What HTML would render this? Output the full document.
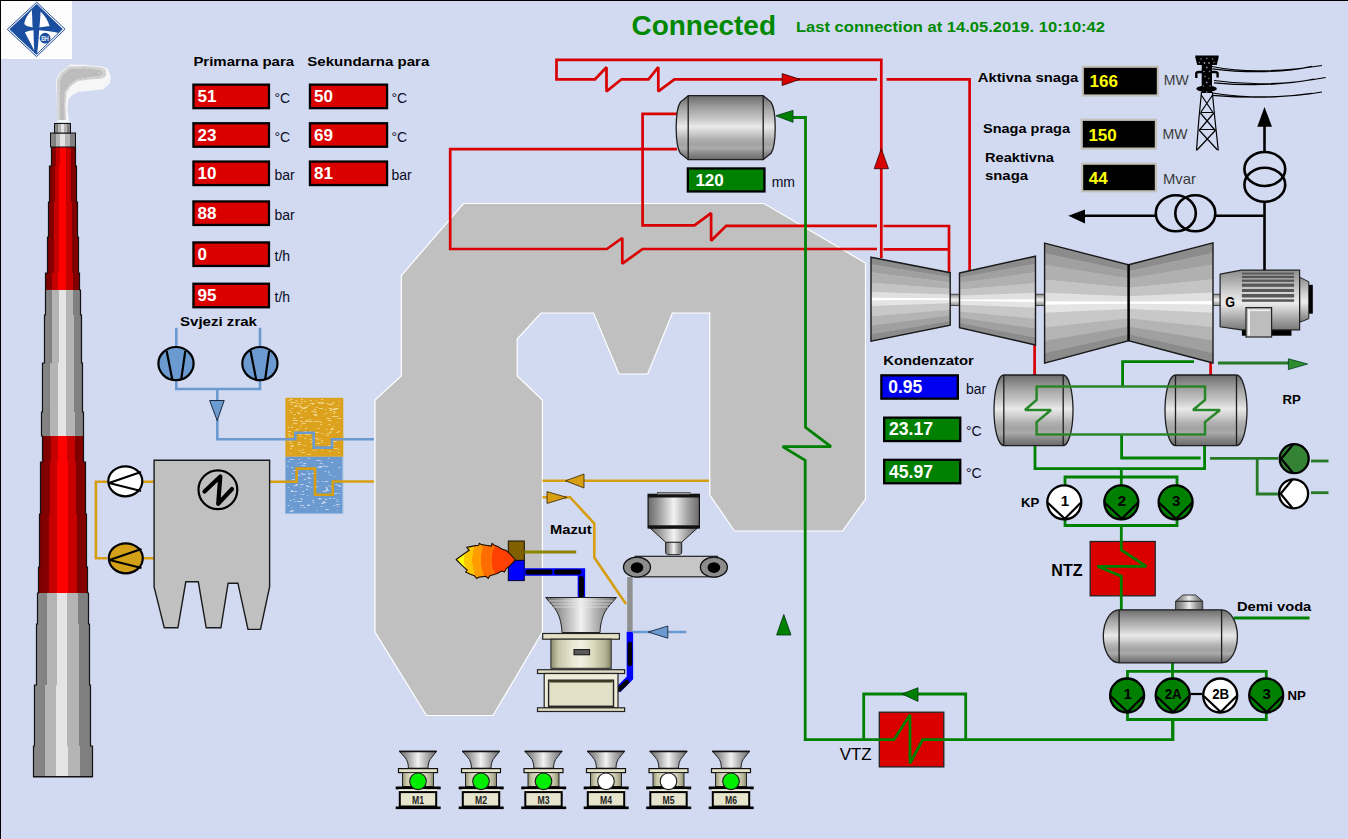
<!DOCTYPE html>
<html><head><meta charset="utf-8">
<style>
html,body{margin:0;padding:0;background:#D2DAF2;}
#wrap{position:relative;width:1348px;height:839px;overflow:hidden;background:#D2DAF2;}
svg{position:absolute;left:0;top:0;}
svg text{font-family:"Liberation Sans",sans-serif;}
</style></head><body><div id="wrap">
<svg width="1348" height="839" viewBox="0 0 1348 839">
<defs>
<linearGradient id="gRed" x1="0" x2="1" y1="0" y2="0">
<stop offset="0" stop-color="#7a0000"/><stop offset="0.21" stop-color="#880000"/><stop offset="0.21" stop-color="#c40000"/><stop offset="0.37" stop-color="#c80000"/><stop offset="0.37" stop-color="#ff0000"/><stop offset="0.6" stop-color="#ff0000"/><stop offset="0.6" stop-color="#c80000"/><stop offset="0.79" stop-color="#c40000"/><stop offset="0.79" stop-color="#7c0000"/><stop offset="1" stop-color="#880000"/>
</linearGradient>
<linearGradient id="gGray" x1="0" x2="1" y1="0" y2="0">
<stop offset="0" stop-color="#888888"/><stop offset="0.2" stop-color="#808080"/><stop offset="0.2" stop-color="#b4b4b4"/><stop offset="0.39" stop-color="#b4b4b4"/><stop offset="0.39" stop-color="#e4e4e4"/><stop offset="0.58" stop-color="#e4e4e4"/><stop offset="0.58" stop-color="#b4b4b4"/><stop offset="0.79" stop-color="#b4b4b4"/><stop offset="0.79" stop-color="#808080"/><stop offset="1" stop-color="#808080"/>
</linearGradient>
<linearGradient id="gCylV" x1="0" x2="0" y1="0" y2="1">
<stop offset="0" stop-color="#6c6c6c"/><stop offset="0.11" stop-color="#8a8a8a"/><stop offset="0.21" stop-color="#a6a6a6"/><stop offset="0.32" stop-color="#bdbdbd"/><stop offset="0.4" stop-color="#d2d2d2"/><stop offset="0.48" stop-color="#e9e9e9"/><stop offset="0.57" stop-color="#d2d2d2"/><stop offset="0.67" stop-color="#b2b2b2"/><stop offset="0.76" stop-color="#a2a2a2"/><stop offset="0.82" stop-color="#ababab"/><stop offset="0.9" stop-color="#8a8a8a"/><stop offset="1" stop-color="#6a6a6a"/>
</linearGradient>
<linearGradient id="gCylH" x1="0" x2="1" y1="0" y2="0">
<stop offset="0" stop-color="#707070"/><stop offset="0.25" stop-color="#a0a0a0"/><stop offset="0.5" stop-color="#eeeeee"/><stop offset="0.75" stop-color="#a0a0a0"/><stop offset="1" stop-color="#6a6a6a"/>
</linearGradient>
<linearGradient id="gTurb" x1="0" x2="0" y1="0" y2="1">
<stop offset="0" stop-color="#8a8a8a"/><stop offset="0.1" stop-color="#8a8a8a"/><stop offset="0.1" stop-color="#9c9c9c"/><stop offset="0.2" stop-color="#9c9c9c"/><stop offset="0.2" stop-color="#b0b0b0"/><stop offset="0.3" stop-color="#b0b0b0"/><stop offset="0.3" stop-color="#c4c4c4"/><stop offset="0.4" stop-color="#c4c4c4"/><stop offset="0.4" stop-color="#e0e0e0"/><stop offset="0.47" stop-color="#e8e8e8"/><stop offset="0.47" stop-color="#ffffff"/><stop offset="0.52" stop-color="#ffffff"/><stop offset="0.52" stop-color="#e0e0e0"/><stop offset="0.6" stop-color="#d4d4d4"/><stop offset="0.6" stop-color="#c4c4c4"/><stop offset="0.7" stop-color="#c4c4c4"/><stop offset="0.7" stop-color="#b0b0b0"/><stop offset="0.8" stop-color="#b0b0b0"/><stop offset="0.8" stop-color="#9c9c9c"/><stop offset="0.9" stop-color="#9c9c9c"/><stop offset="0.9" stop-color="#8a8a8a"/><stop offset="1" stop-color="#8a8a8a"/>
</linearGradient>
<linearGradient id="gShaft" x1="0" x2="0" y1="0" y2="1">
<stop offset="0" stop-color="#888"/><stop offset="0.5" stop-color="#f4f4f4"/><stop offset="1" stop-color="#888"/>
</linearGradient>
<linearGradient id="gGen" x1="0" x2="0" y1="0" y2="1">
<stop offset="0" stop-color="#8e8e8e"/><stop offset="0.15" stop-color="#a8a8a8"/><stop offset="0.35" stop-color="#cfcfcf"/><stop offset="0.55" stop-color="#ececec"/><stop offset="0.7" stop-color="#c4c4c4"/><stop offset="0.85" stop-color="#9c9c9c"/><stop offset="1" stop-color="#7a7a7a"/>
</linearGradient>
<linearGradient id="gFun" x1="0" x2="1" y1="0" y2="0">
<stop offset="0" stop-color="#6a6a6a"/><stop offset="0.2" stop-color="#9a9a9a"/><stop offset="0.5" stop-color="#f2f2f2"/><stop offset="0.75" stop-color="#a8a8a8"/><stop offset="1" stop-color="#6a6a6a"/>
</linearGradient>
<linearGradient id="gKhaki" x1="0" x2="1" y1="0" y2="0">
<stop offset="0" stop-color="#8e8c6e"/><stop offset="0.12" stop-color="#c8c6a8"/><stop offset="0.35" stop-color="#e8e7d2"/><stop offset="0.5" stop-color="#f2f1e2"/><stop offset="0.7" stop-color="#dcdbc0"/><stop offset="0.9" stop-color="#b4b296"/><stop offset="1" stop-color="#858366"/>
</linearGradient>
<linearGradient id="gFlame" x1="0" x2="1" y1="0" y2="0">
<stop offset="0" stop-color="#ffff00"/><stop offset="0.15" stop-color="#ffe000"/><stop offset="0.16" stop-color="#ffc400"/><stop offset="0.3" stop-color="#ffb000"/><stop offset="0.31" stop-color="#ff9a00"/><stop offset="0.45" stop-color="#ff8800"/><stop offset="0.46" stop-color="#ff6a00"/><stop offset="0.62" stop-color="#ff5a00"/><stop offset="0.63" stop-color="#ff4400"/><stop offset="1" stop-color="#ff3a00"/>
</linearGradient>
<symbol id="mini" overflow="visible">
<path d="M-18.8 0 H18.7 L14 6 C11 9 10 13 10 17.2 H-9.6 C-9.6 13 -10.5 9 -13.5 6 Z" fill="url(#gFun)" stroke="#222" stroke-width="1"/>
<path d="M-18.8 0.6 H18.7" stroke="#111" stroke-width="1.4"/>
<rect x="-19.5" y="17.6" width="39" height="4" fill="#e4e2c6" stroke="#111" stroke-width="1.2"/>
<rect x="-15.5" y="21.6" width="31" height="13.9" fill="url(#gKhaki)" stroke="#222" stroke-width="1"/>
<rect x="-22.3" y="35.5" width="45" height="2.8" fill="#000"/>
<rect x="-19" y="38.3" width="38" height="2.8" fill="#f4f2dc"/>
<rect x="-18.2" y="41.1" width="36.4" height="14.4" fill="#e6e4cc" stroke="#000" stroke-width="2"/>
<rect x="-22.3" y="55.5" width="45" height="2.6" fill="#000"/>
</symbol>
</defs>

<!-- frame lines -->
<rect x="0" y="0" width="1348" height="1" fill="#000"/>
<rect x="0" y="0" width="1" height="839" fill="#000"/>

<!-- logo -->
<rect x="1" y="1" width="71" height="58" fill="#fff"/>
<g id="logo">
<path d="M36.5 2.5 L65 29.5 L36.5 57 L8 29.5 Z" fill="none" stroke="#1a4fa0" stroke-width="1"/>
<path d="M36.5 5 L62 29.5 L36.5 54.5 L11 29.5 Z" fill="#1a4fa0"/>
</g>


<!-- logo -->
<rect x="1" y="1" width="71" height="58" fill="#fdfdfd"/>
<path d="M36.7 2.2 L65 29.2 L36.5 56.6 L7.3 29.3 Z" fill="none" stroke="#1f4e9a" stroke-width="1"/>
<path d="M36.7 4.3 L62.3 29.2 L36.5 54.4 L9.8 29.3 Z" fill="#1a4f9f"/>
<path d="M31.8 10 C28 14 25 19 24.3 23.2 C24.6 25.5 27 26.2 32.6 27.4 C32.3 21 32.2 15 31.8 10 Z" fill="#fdfdfd"/>
<path d="M40.6 11.5 C40.3 17 40 22 39.4 27.5 C43 26.8 46.5 26.2 49.6 26.2 C48 20.5 45 15.5 40.6 11.5 Z" fill="#fdfdfd"/>
<path d="M24.9 32.2 C28 31 31 30.5 33.5 30.3 C33.7 37 33.8 44 34.2 50.5 C31 43 27 37 24.9 32.2 Z" fill="#fdfdfd"/>
<path d="M39.1 30.3 C46 30.8 53 31.8 58.6 32.9 L37.1 53.8 C38.2 46 38.8 37 39.1 30.3 Z" fill="#fdfdfd"/>
<path d="M36.7 4.3 L62.3 29.2 L36.5 54.4 L9.8 29.3 Z" fill="none" stroke="#1a4f9f" stroke-width="0.9"/>
<circle cx="45.1" cy="38.2" r="5.4" fill="#1a4f9f"/>
<text x="41.2" y="41.2" font-size="7.6" fill="#fff" stroke="#fff" stroke-width="0.2" textLength="7.6" lengthAdjust="spacingAndGlyphs">BH</text>

<!-- chimney -->
<rect x="51" y="147" width="25" height="19" fill="url(#gRed)"/>
<rect x="49" y="166" width="28" height="36" fill="url(#gRed)"/>
<rect x="48" y="202" width="30" height="35" fill="url(#gRed)"/>
<rect x="47" y="237" width="32" height="36" fill="url(#gRed)"/>
<rect x="45" y="273" width="35" height="17" fill="url(#gRed)"/>
<rect x="45" y="290" width="36" height="25" fill="url(#gGray)"/>
<rect x="44" y="315" width="38" height="48" fill="url(#gGray)"/>
<rect x="42" y="363" width="41" height="49" fill="url(#gGray)"/>
<rect x="41" y="412" width="43" height="24" fill="url(#gGray)"/>
<rect x="42" y="436" width="42" height="26" fill="url(#gRed)"/>
<rect x="40" y="462" width="46" height="52" fill="url(#gRed)"/>
<rect x="39" y="514" width="48" height="53" fill="url(#gRed)"/>
<rect x="38" y="567" width="50" height="26" fill="url(#gRed)"/>
<rect x="37" y="593" width="52" height="31" fill="url(#gGray)"/>
<rect x="36" y="624" width="54" height="61" fill="url(#gGray)"/>
<rect x="34" y="685" width="57" height="61" fill="url(#gGray)"/>
<rect x="33" y="746" width="60" height="31" fill="url(#gGray)"/>
<path d="M51.5,147 51.5,166 L49.5,166 49.5,202 L48.5,202 48.5,237 L47.5,237 47.5,273 L45.5,273 45.5,290 L45.5,290 45.5,315 L44.5,315 44.5,363 L42.5,363 42.5,412 L41.5,412 41.5,436 L42.5,436 42.5,462 L40.5,462 40.5,514 L39.5,514 39.5,567 L38.5,567 38.5,593 L37.5,593 37.5,624 L36.5,624 36.5,685 L34.5,685 34.5,746 L33.5,746 33.5,777" fill="none" stroke="#111" stroke-width="1.2"/>
<path d="M75.5,147 75.5,166 L76.5,166 76.5,202 L77.5,202 77.5,237 L78.5,237 78.5,273 L79.5,273 79.5,290 L80.5,290 80.5,315 L81.5,315 81.5,363 L82.5,363 82.5,412 L83.5,412 83.5,436 L83.5,436 83.5,462 L85.5,462 85.5,514 L86.5,514 86.5,567 L87.5,567 87.5,593 L88.5,593 88.5,624 L89.5,624 89.5,685 L90.5,685 90.5,746 L92.5,746 92.5,777" fill="none" stroke="#111" stroke-width="1.2"/>
<rect x="33" y="776" width="60" height="1.5" fill="#111"/>
<rect x="50.5" y="133" width="25" height="14" fill="url(#gGray)" stroke="#111" stroke-width="1"/>
<rect x="54.5" y="123.5" width="16" height="9.5" fill="url(#gGray)" stroke="#111" stroke-width="1"/>
<path d="M57.5 122 L56.7 93 L55.8 81 L59.2 73.3 L68.3 65.8 L70 64.6 L88.3 65 L103.3 66.7 L108.3 69.2 L110.8 76.7 L110 83.3 L103.3 89.2 L90 90.8 L78.3 91.7 L72.5 95 L68.3 99.2 L67.5 110 L69.2 122 Z" fill="#f6f6f6"/>
<path d="M57.5 120 L57.2 93 L56.8 81 L60 74 L68.5 66.5 L88 66 L102 67.5 L106 70 L106 76 L102 78.5 L90 79.5 L78 81 L71 86 L66.5 92 L65.5 105 L66 120 Z" fill="#d2d2d2"/>
<path d="M60 120 L60 93 L60 82 L63 75 L70 69 L88 68.5 L100 70 L103 73 L100 76 L89 77 L77 79 L70 84 L64.5 92 L64 105 L64.5 120 Z" fill="#bdbdbd"/>
<clipPath id="smokeClip"><path d="M57.5 120 L57.2 93 L56.8 81 L60 74 L68.5 66.5 L88 66 L102 67.5 L106 70 L106 76 L102 78.5 L90 79.5 L78 81 L71 86 L66.5 92 L65.5 105 L66 120 Z"/></clipPath>
<g clip-path="url(#smokeClip)" opacity="0.6"><rect x="68.3" y="95.6" width="2" height="1" fill="#a9a9a9"/><rect x="81.5" y="97.7" width="1" height="1" fill="#b0b0b0"/><rect x="105.9" y="91.2" width="1" height="1" fill="#b0b0b0"/><rect x="65.7" y="105.6" width="2" height="1" fill="#b0b0b0"/><rect x="81.7" y="101.1" width="1" height="1" fill="#d8d8d8"/><rect x="90.6" y="114.3" width="1.5" height="1" fill="#b0b0b0"/><rect x="96.5" y="102.9" width="1" height="1" fill="#cfcfcf"/><rect x="97.5" y="98.3" width="1" height="1" fill="#a9a9a9"/><rect x="101.1" y="79.6" width="2" height="1" fill="#b0b0b0"/><rect x="106.5" y="86.5" width="1.5" height="1" fill="#e6e6e6"/><rect x="95.8" y="97.5" width="1.5" height="1" fill="#d8d8d8"/><rect x="60.5" y="71.9" width="1.5" height="1" fill="#d8d8d8"/><rect x="109.1" y="89.3" width="1.5" height="1" fill="#a9a9a9"/><rect x="83.4" y="86.4" width="2" height="1" fill="#a9a9a9"/><rect x="87.8" y="97.9" width="2" height="1" fill="#a9a9a9"/><rect x="106.3" y="65.7" width="2" height="1" fill="#a9a9a9"/><rect x="92.6" y="73.5" width="2" height="1" fill="#a9a9a9"/><rect x="105.7" y="97.0" width="2" height="1" fill="#d8d8d8"/><rect x="101.6" y="97.3" width="1" height="1" fill="#a9a9a9"/><rect x="58.6" y="113.5" width="1" height="1" fill="#e6e6e6"/><rect x="74.3" y="67.9" width="1" height="1" fill="#d8d8d8"/><rect x="71.5" y="108.6" width="1" height="1" fill="#cfcfcf"/><rect x="88.9" y="108.2" width="2" height="1" fill="#e6e6e6"/><rect x="87.8" y="95.9" width="2" height="1" fill="#a9a9a9"/><rect x="68.2" y="66.1" width="1" height="1" fill="#cfcfcf"/><rect x="61.1" y="95.1" width="1.5" height="1" fill="#d8d8d8"/><rect x="71.3" y="79.3" width="1.5" height="1" fill="#cfcfcf"/><rect x="72.6" y="119.6" width="1.5" height="1" fill="#e6e6e6"/><rect x="80.8" y="94.2" width="2" height="1" fill="#b0b0b0"/><rect x="86.3" y="100.0" width="1.5" height="1" fill="#b0b0b0"/><rect x="79.1" y="105.8" width="1.5" height="1" fill="#d8d8d8"/><rect x="79.5" y="79.0" width="2" height="1" fill="#a9a9a9"/><rect x="74.0" y="109.7" width="1.5" height="1" fill="#b0b0b0"/><rect x="56.1" y="99.7" width="1" height="1" fill="#d8d8d8"/><rect x="90.5" y="83.3" width="2" height="1" fill="#a9a9a9"/><rect x="106.4" y="99.3" width="2" height="1" fill="#a9a9a9"/><rect x="82.4" y="98.2" width="1.5" height="1" fill="#cfcfcf"/><rect x="69.1" y="90.5" width="2" height="1" fill="#b0b0b0"/><rect x="72.9" y="85.1" width="1.5" height="1" fill="#a9a9a9"/><rect x="102.3" y="79.3" width="1" height="1" fill="#e6e6e6"/><rect x="98.2" y="65.6" width="2" height="1" fill="#b0b0b0"/><rect x="96.2" y="82.0" width="2" height="1" fill="#d8d8d8"/><rect x="100.0" y="77.8" width="2" height="1" fill="#d8d8d8"/><rect x="79.4" y="104.5" width="2" height="1" fill="#cfcfcf"/><rect x="73.0" y="83.4" width="1.5" height="1" fill="#d8d8d8"/><rect x="100.3" y="119.7" width="1.5" height="1" fill="#cfcfcf"/><rect x="96.6" y="76.6" width="1.5" height="1" fill="#b0b0b0"/><rect x="70.2" y="109.6" width="2" height="1" fill="#cfcfcf"/><rect x="108.6" y="82.3" width="1" height="1" fill="#b0b0b0"/><rect x="103.4" y="83.7" width="2" height="1" fill="#cfcfcf"/><rect x="74.3" y="71.5" width="2" height="1" fill="#a9a9a9"/><rect x="99.5" y="79.7" width="2" height="1" fill="#a9a9a9"/><rect x="78.3" y="88.3" width="1" height="1" fill="#e6e6e6"/><rect x="106.6" y="73.0" width="1.5" height="1" fill="#cfcfcf"/><rect x="107.8" y="115.0" width="1.5" height="1" fill="#b0b0b0"/><rect x="86.3" y="121.2" width="1" height="1" fill="#d8d8d8"/><rect x="96.7" y="112.5" width="1.5" height="1" fill="#b0b0b0"/><rect x="85.5" y="115.6" width="2" height="1" fill="#cfcfcf"/><rect x="109.4" y="71.0" width="1" height="1" fill="#d8d8d8"/><rect x="57.0" y="110.6" width="1" height="1" fill="#b0b0b0"/><rect x="105.2" y="116.2" width="1" height="1" fill="#b0b0b0"/><rect x="55.7" y="107.2" width="2" height="1" fill="#d8d8d8"/><rect x="71.8" y="102.4" width="2" height="1" fill="#b0b0b0"/><rect x="78.2" y="118.5" width="1" height="1" fill="#b0b0b0"/><rect x="74.1" y="78.6" width="1.5" height="1" fill="#b0b0b0"/><rect x="100.4" y="67.6" width="1" height="1" fill="#d8d8d8"/><rect x="61.8" y="115.5" width="1" height="1" fill="#cfcfcf"/><rect x="68.4" y="79.9" width="1" height="1" fill="#d8d8d8"/><rect x="82.3" y="97.1" width="1" height="1" fill="#e6e6e6"/><rect x="97.4" y="78.4" width="2" height="1" fill="#b0b0b0"/><rect x="84.1" y="67.0" width="1" height="1" fill="#a9a9a9"/><rect x="103.0" y="109.0" width="1" height="1" fill="#cfcfcf"/><rect x="57.8" y="92.0" width="2" height="1" fill="#cfcfcf"/><rect x="59.8" y="93.1" width="1" height="1" fill="#a9a9a9"/><rect x="72.6" y="84.4" width="2" height="1" fill="#e6e6e6"/><rect x="72.0" y="79.4" width="1.5" height="1" fill="#a9a9a9"/><rect x="61.9" y="96.2" width="1" height="1" fill="#e6e6e6"/><rect x="86.7" y="66.5" width="2" height="1" fill="#e6e6e6"/><rect x="91.4" y="95.4" width="2" height="1" fill="#cfcfcf"/><rect x="104.6" y="67.1" width="2" height="1" fill="#e6e6e6"/><rect x="72.6" y="119.1" width="1.5" height="1" fill="#e6e6e6"/><rect x="56.0" y="76.7" width="2" height="1" fill="#a9a9a9"/><rect x="88.0" y="110.6" width="1.5" height="1" fill="#d8d8d8"/><rect x="62.3" y="65.6" width="1.5" height="1" fill="#a9a9a9"/><rect x="109.3" y="96.4" width="1" height="1" fill="#a9a9a9"/><rect x="81.0" y="71.1" width="1.5" height="1" fill="#b0b0b0"/><rect x="92.4" y="106.6" width="2" height="1" fill="#b0b0b0"/><rect x="60.8" y="98.1" width="1.5" height="1" fill="#cfcfcf"/><rect x="63.0" y="108.9" width="2" height="1" fill="#cfcfcf"/><rect x="60.1" y="69.8" width="1" height="1" fill="#e6e6e6"/><rect x="100.9" y="83.8" width="1" height="1" fill="#cfcfcf"/><rect x="102.3" y="103.1" width="2" height="1" fill="#a9a9a9"/><rect x="71.8" y="69.1" width="2" height="1" fill="#b0b0b0"/><rect x="84.6" y="77.8" width="2" height="1" fill="#b0b0b0"/><rect x="60.6" y="96.1" width="1.5" height="1" fill="#b0b0b0"/><rect x="103.7" y="74.5" width="1" height="1" fill="#cfcfcf"/><rect x="110.9" y="101.5" width="2" height="1" fill="#e6e6e6"/><rect x="94.2" y="118.7" width="1.5" height="1" fill="#a9a9a9"/><rect x="88.6" y="118.4" width="1.5" height="1" fill="#b0b0b0"/><rect x="109.1" y="85.8" width="1.5" height="1" fill="#d8d8d8"/><rect x="102.2" y="120.1" width="2" height="1" fill="#e6e6e6"/><rect x="86.8" y="97.6" width="2" height="1" fill="#b0b0b0"/><rect x="82.1" y="101.3" width="1" height="1" fill="#d8d8d8"/><rect x="60.4" y="107.4" width="1.5" height="1" fill="#b0b0b0"/><rect x="87.8" y="113.8" width="1.5" height="1" fill="#d8d8d8"/><rect x="97.1" y="72.5" width="1.5" height="1" fill="#b0b0b0"/><rect x="107.3" y="113.4" width="1.5" height="1" fill="#b0b0b0"/><rect x="92.6" y="113.6" width="2" height="1" fill="#b0b0b0"/><rect x="87.7" y="79.5" width="1.5" height="1" fill="#d8d8d8"/><rect x="56.3" y="91.8" width="1" height="1" fill="#e6e6e6"/><rect x="64.6" y="84.9" width="1.5" height="1" fill="#a9a9a9"/><rect x="98.4" y="72.3" width="2" height="1" fill="#e6e6e6"/><rect x="88.5" y="91.1" width="1" height="1" fill="#b0b0b0"/><rect x="82.0" y="105.8" width="2" height="1" fill="#e6e6e6"/><rect x="104.4" y="66.7" width="1" height="1" fill="#d8d8d8"/><rect x="91.3" y="109.1" width="1" height="1" fill="#cfcfcf"/><rect x="102.8" y="78.0" width="1.5" height="1" fill="#d8d8d8"/><rect x="62.7" y="100.1" width="1.5" height="1" fill="#cfcfcf"/><rect x="64.5" y="66.6" width="1.5" height="1" fill="#d8d8d8"/><rect x="60.1" y="110.3" width="1" height="1" fill="#cfcfcf"/></g>
<!-- smoke end -->
<!-- data panels -->
<text x="193.4" y="65.8" font-size="13.2" font-weight="bold" fill="#000" textLength="100.7" lengthAdjust="spacingAndGlyphs">Primarna para</text>
<text x="307.3" y="65.8" font-size="13.2" font-weight="bold" fill="#000" textLength="122" lengthAdjust="spacingAndGlyphs">Sekundarna para</text>
<rect x="193.45" y="84.65" width="75.50" height="23.50" fill="#DA0000" stroke="#000" stroke-width="2.3"/>
<text x="197.5" y="102.0" font-size="17" font-weight="bold" fill="#fff">51</text>
<text x="274.5" y="103.3" font-size="14" fill="#0a0a1e">°C</text>
<rect x="193.45" y="123.25" width="75.50" height="23.50" fill="#DA0000" stroke="#000" stroke-width="2.3"/>
<text x="197.5" y="140.6" font-size="17" font-weight="bold" fill="#fff">23</text>
<text x="274.5" y="141.9" font-size="14" fill="#0a0a1e">°C</text>
<rect x="193.45" y="161.55" width="75.50" height="23.50" fill="#DA0000" stroke="#000" stroke-width="2.3"/>
<text x="197.5" y="178.9" font-size="17" font-weight="bold" fill="#fff">10</text>
<text x="274.5" y="180.20000000000002" font-size="14" fill="#0a0a1e">bar</text>
<rect x="193.45" y="201.45" width="75.50" height="23.50" fill="#DA0000" stroke="#000" stroke-width="2.3"/>
<text x="197.5" y="218.8" font-size="17" font-weight="bold" fill="#fff">88</text>
<text x="274.5" y="220.10000000000002" font-size="14" fill="#0a0a1e">bar</text>
<rect x="193.45" y="242.45" width="75.50" height="23.50" fill="#DA0000" stroke="#000" stroke-width="2.3"/>
<text x="197.5" y="259.8" font-size="17" font-weight="bold" fill="#fff">0</text>
<text x="274.5" y="261.1" font-size="14" fill="#0a0a1e">t/h</text>
<rect x="193.45" y="283.75" width="75.50" height="23.50" fill="#DA0000" stroke="#000" stroke-width="2.3"/>
<text x="197.5" y="301.1" font-size="17" font-weight="bold" fill="#fff">95</text>
<text x="274.5" y="302.40000000000003" font-size="14" fill="#0a0a1e">t/h</text>
<rect x="309.95" y="84.65" width="77.10" height="23.50" fill="#DA0000" stroke="#000" stroke-width="2.3"/>
<text x="314" y="102.0" font-size="17" font-weight="bold" fill="#fff">50</text>
<text x="391.5" y="103.3" font-size="14" fill="#0a0a1e">°C</text>
<rect x="309.95" y="123.25" width="77.10" height="23.50" fill="#DA0000" stroke="#000" stroke-width="2.3"/>
<text x="314" y="140.6" font-size="17" font-weight="bold" fill="#fff">69</text>
<text x="391.5" y="141.9" font-size="14" fill="#0a0a1e">°C</text>
<rect x="309.95" y="161.55" width="77.10" height="23.50" fill="#DA0000" stroke="#000" stroke-width="2.3"/>
<text x="314" y="178.9" font-size="17" font-weight="bold" fill="#fff">81</text>
<text x="391.5" y="180.20000000000002" font-size="14" fill="#0a0a1e">bar</text>
<text x="180" y="325.7" font-size="13.2" font-weight="bold" fill="#000" textLength="77" lengthAdjust="spacingAndGlyphs">Svjezi zrak</text>
<!-- boiler -->
<path d="M463.5 203.5 L764 203.5 L865.5 263 L865.5 499 L842.5 531 L734.5 531 L709.8 495 L709.8 313 L672.4 313 L647.7 374 L619 374 L593.5 313 L541 313 L517.2 339 L517.2 376 L542.4 400 L542.4 632 L493 715.5 L426.5 715.5 L375 632 L375 400 L401.3 376 L401.3 275.6 Z" fill="#C0C0C0" stroke="#FFFFFF" stroke-width="1.2"/>
<rect x="1090.2" y="541.5" width="65" height="54.3" fill="#DA0000" stroke="#222" stroke-width="1.3"/>
<rect x="879.3" y="712.2" width="64.5" height="54.7" fill="#DA0000" stroke="#222" stroke-width="1.3"/>

<!-- red steam pipes -->
<g fill="none" stroke="#D80000" stroke-width="2.7" stroke-miterlimit="2">
<path d="M881.3 258 V59.8 H556.5 V79.3 H595 L606.5 67.2 V91.4 L621.5 79.3 H648.5 L658.3 67.2 V91.4 L674.4 79.3 H877"/>
<path d="M886.6 79.3 H969.6 V271"/>
<path d="M677 113.8 H642.6 V225.3 H694.5 L711.1 213.1 V240.8 L726.2 225.8 H877"/>
<path d="M883.5 226 H949 V273"/>
<path d="M677 149.2 H450.2 V249 H606.8 L622.3 238 V263.7 L642.6 249 H877"/>
<path d="M883.5 249.3 H949"/>
<path d="M1034.6 344 V375"/>
<path d="M1210.6 360 V375"/>
</g>
<path d="M782.2 73.6 L800 79.3 L782.2 85.5 Z" fill="#D80000" stroke="#300" stroke-width="0.8"/>
<path d="M881.3 148.7 L888.5 168.7 L874.2 168.7 Z" fill="#D80000" stroke="#300" stroke-width="0.8"/>
<!-- green water pipes -->
<g fill="none" stroke="#008000" stroke-width="2.8" stroke-miterlimit="2">
<path d="M793 117.5 H805.5 V427.3 L831 446.6 H782.6 L805.2 460.2 V739.7 H894 L910 714.8 V763.3 L922.7 739.7 H1173 V719.5"/>
<path d="M863.7 739.7 V694 H965.7 V739.7"/>
<path d="M1122.6 386.4 V361.6 H1194"/>
<path d="M1035 445.6 V468.6 H1204.6 V445.6"/>
<path d="M1121.6 434.4 V458 H1200.6"/>
<path d="M1121.3 468.6 V477"/>
<path d="M1065 502 V477 H1177 V502"/>
<path d="M1121.3 477 V502"/>
<path d="M1065 502 V525.5 H1177 V502"/>
<path d="M1121.3 525.5 V550 L1146.3 566.3 H1097.5 L1121.3 576.3 V610"/>
<path d="M1233.8 618 H1309.5"/>
<path d="M1172.5 662 V671.3"/>
<path d="M1127.5 695 V671.3 H1266.3 V695"/>
<path d="M1172.5 671.3 V695"/>
<path d="M1127.5 695 V719.5 H1266.3 V695"/>
<path d="M1172.5 719.5 V740"/>
</g>
<g fill="none" stroke="#267A26" stroke-width="2.8" stroke-miterlimit="2">
<path d="M1218 363 H1290"/>
<path d="M1210 458.4 H1278"/>
<path d="M1257.2 458.4 V494 H1278"/>
<path d="M1311 461 H1328.5"/>
<path d="M1311 492.7 H1328.5"/>
</g>
<path d="M775.8 115.8 L793 110.4 L793 122.3 Z" fill="#008000" stroke="#031" stroke-width="0.8"/>
<path d="M1288.4 358.8 L1307.6 364 L1288.4 369.6 Z" fill="#2E8B2E" stroke="#042" stroke-width="0.8"/>
<path d="M902 694 L918 687.7 L918 701.4 Z" fill="#008000" stroke="#031" stroke-width="0.8"/>
<path d="M783.8 614.4 L791 635 L776.6 635 Z" fill="#008000" stroke="#031" stroke-width="0.8"/>

<!-- turbines and generator -->
<rect x="949" y="294.2" width="11" height="11.4" fill="url(#gShaft)" stroke="#333" stroke-width="0.8"/>
<rect x="1034" y="294.2" width="11" height="11.4" fill="url(#gShaft)" stroke="#333" stroke-width="0.8"/>
<rect x="1212" y="294.2" width="9" height="11.4" fill="url(#gShaft)" stroke="#333" stroke-width="0.8"/>
<path d="M871 257.20 L950.2 272.70 L950.2 277.42 L871 264.56 Z" fill="#8c8c8c"/>
<path d="M871 264.26 L950.2 277.12 L950.2 282.47 L871 272.62 Z" fill="#a0a0a0"/>
<path d="M871 272.32 L950.2 282.17 L950.2 288.94 L871 282.95 Z" fill="#b0b0b0"/>
<path d="M871 282.65 L950.2 288.64 L950.2 294.72 L871 292.19 Z" fill="#c4c4c4"/>
<path d="M871 291.89 L950.2 294.42 L950.2 298.46 L871 298.16 Z" fill="#e0e0e0"/>
<path d="M871 297.86 L950.2 298.16 L950.2 300.04 L871 300.68 Z" fill="#ffffff"/>
<path d="M871 300.38 L950.2 299.74 L950.2 303.56 L871 306.30 Z" fill="#e4e4e4"/>
<path d="M871 306.00 L950.2 303.26 L950.2 309.98 L871 316.55 Z" fill="#c8c8c8"/>
<path d="M871 316.25 L950.2 309.68 L950.2 315.76 L871 325.79 Z" fill="#b4b4b4"/>
<path d="M871 325.49 L950.2 315.46 L950.2 321.18 L871 334.44 Z" fill="#a0a0a0"/>
<path d="M871 334.14 L950.2 320.88 L950.2 325.60 L871 341.50 Z" fill="#8c8c8c"/>
<path d="M871 257.2 L950.2 272.7 L950.2 325.3 L871 341.2 Z" fill="none" stroke="#1a1a1a" stroke-width="1.4"/>
<path d="M959.5 273.00 L1035.5 256.20 L1035.5 263.96 L959.5 277.89 Z" fill="#8c8c8c"/>
<path d="M959.5 277.59 L1035.5 263.66 L1035.5 272.48 L959.5 283.15 Z" fill="#a0a0a0"/>
<path d="M959.5 282.85 L1035.5 272.18 L1035.5 283.41 L959.5 289.87 Z" fill="#b0b0b0"/>
<path d="M959.5 289.57 L1035.5 283.11 L1035.5 293.17 L959.5 295.89 Z" fill="#c4c4c4"/>
<path d="M959.5 295.59 L1035.5 292.87 L1035.5 299.48 L959.5 299.77 Z" fill="#e0e0e0"/>
<path d="M959.5 299.47 L1035.5 299.18 L1035.5 302.14 L959.5 301.42 Z" fill="#ffffff"/>
<path d="M959.5 301.12 L1035.5 301.84 L1035.5 308.09 L959.5 305.08 Z" fill="#e4e4e4"/>
<path d="M959.5 304.78 L1035.5 307.79 L1035.5 318.93 L959.5 311.75 Z" fill="#c8c8c8"/>
<path d="M959.5 311.45 L1035.5 318.63 L1035.5 328.69 L959.5 317.77 Z" fill="#b4b4b4"/>
<path d="M959.5 317.47 L1035.5 328.39 L1035.5 337.84 L959.5 323.41 Z" fill="#a0a0a0"/>
<path d="M959.5 323.11 L1035.5 337.54 L1035.5 345.30 L959.5 328.00 Z" fill="#8c8c8c"/>
<path d="M959.5 273 L1035.5 256.2 L1035.5 345 L959.5 327.7 Z" fill="none" stroke="#1a1a1a" stroke-width="1.4"/>
<path d="M1044.6 243.10 L1128.6 264.80 L1128.6 271.48 L1044.6 253.48 Z" fill="#8c8c8c"/>
<path d="M1044.6 253.18 L1128.6 271.18 L1128.6 278.76 L1044.6 265.00 Z" fill="#a0a0a0"/>
<path d="M1044.6 264.70 L1128.6 278.46 L1128.6 288.10 L1044.6 279.76 Z" fill="#b0b0b0"/>
<path d="M1044.6 279.46 L1128.6 287.80 L1128.6 296.45 L1044.6 292.96 Z" fill="#c4c4c4"/>
<path d="M1044.6 292.66 L1128.6 296.15 L1128.6 301.84 L1044.6 301.48 Z" fill="#e0e0e0"/>
<path d="M1044.6 301.18 L1128.6 301.54 L1128.6 304.11 L1044.6 305.08 Z" fill="#ffffff"/>
<path d="M1044.6 304.78 L1128.6 303.81 L1128.6 309.20 L1044.6 313.12 Z" fill="#e4e4e4"/>
<path d="M1044.6 312.82 L1128.6 308.90 L1128.6 318.46 L1044.6 327.76 Z" fill="#c8c8c8"/>
<path d="M1044.6 327.46 L1128.6 318.16 L1128.6 326.81 L1044.6 340.96 Z" fill="#b4b4b4"/>
<path d="M1044.6 340.66 L1128.6 326.51 L1128.6 334.62 L1044.6 353.32 Z" fill="#a0a0a0"/>
<path d="M1044.6 353.02 L1128.6 334.32 L1128.6 341.00 L1044.6 363.40 Z" fill="#8c8c8c"/>
<path d="M1044.6 243.1 L1128.6 264.8 L1128.6 340.7 L1044.6 363.1 Z" fill="none" stroke="#1a1a1a" stroke-width="1.4"/>
<path d="M1128.6 264.80 L1213 242.80 L1213 253.20 L1128.6 271.48 Z" fill="#8c8c8c"/>
<path d="M1128.6 271.18 L1213 252.90 L1213 264.74 L1128.6 278.76 Z" fill="#a0a0a0"/>
<path d="M1128.6 278.46 L1213 264.44 L1213 279.52 L1128.6 288.10 Z" fill="#b0b0b0"/>
<path d="M1128.6 287.80 L1213 279.22 L1213 292.74 L1128.6 296.45 Z" fill="#c4c4c4"/>
<path d="M1128.6 296.15 L1213 292.44 L1213 301.28 L1128.6 301.84 Z" fill="#e0e0e0"/>
<path d="M1128.6 301.54 L1213 300.98 L1213 304.88 L1128.6 304.11 Z" fill="#ffffff"/>
<path d="M1128.6 303.81 L1213 304.58 L1213 312.94 L1128.6 309.20 Z" fill="#e4e4e4"/>
<path d="M1128.6 308.90 L1213 312.64 L1213 327.60 L1128.6 318.46 Z" fill="#c8c8c8"/>
<path d="M1128.6 318.16 L1213 327.30 L1213 340.82 L1128.6 326.81 Z" fill="#b4b4b4"/>
<path d="M1128.6 326.51 L1213 340.52 L1213 353.20 L1128.6 334.62 Z" fill="#a0a0a0"/>
<path d="M1128.6 334.32 L1213 352.90 L1213 363.30 L1128.6 341.00 Z" fill="#8c8c8c"/>
<path d="M1128.6 264.8 L1213 242.8 L1213 363 L1128.6 340.7 Z" fill="none" stroke="#1a1a1a" stroke-width="1.4"/>
<path d="M1128.6 264.8 V340.7" stroke="#000" stroke-width="2.4"/>
<rect x="1241.9" y="328.9" width="49.6" height="6.8" fill="#000"/>
<rect x="1308" y="284.8" width="4.8" height="28.9" fill="#000"/>
<path d="M1299.6 277.2 L1308.8 281.8 L1308.8 318.7 L1299.6 322.3 Z" fill="url(#gGen)" stroke="#222" stroke-width="1"/>
<path d="M1220.1 274.2 L1241.4 270.1 L1299.6 270.1 L1299.6 329.9 L1241.4 329.9 L1220.1 326.8 Z" fill="url(#gGen)" stroke="#222" stroke-width="1.2"/>
<rect x="1241.9" y="272.6" width="52.2" height="1.8" fill="#585858"/>
<rect x="1241.9" y="275.8" width="52.2" height="2.3" fill="#585858"/>
<rect x="1241.9" y="279.6" width="52.2" height="2.3" fill="#585858"/>
<rect x="1241.9" y="283.6" width="52.2" height="3.2" fill="#585858"/>
<rect x="1241.9" y="289" width="52.2" height="3.0" fill="#585858"/>
<rect x="1241.9" y="294" width="52.2" height="3.5" fill="#585858"/>
<rect x="1241.9" y="299.3" width="52.2" height="2.5" fill="#585858"/>
<rect x="1246" y="307.6" width="25.6" height="29.4" fill="#bdbdbd" stroke="#222" stroke-width="1.2"/>
<rect x="1248" y="309.5" width="2" height="26" fill="#f0f0f0"/>
<rect x="1248" y="309.5" width="22" height="1.6" fill="#f0f0f0"/>
<text x="1225.2" y="306.6" font-size="15.5" font-weight="bold" fill="#000" textLength="9.8" lengthAdjust="spacingAndGlyphs">G</text>
<!-- vessels -->
<path d="M688.2 95.7 L680.40 102.10 C677.40 106.58 676.2 114.90 676.2 127.70 C676.2 140.50 677.40 148.82 680.40 153.30 L688.2 159.7 H763.2 L771.00 153.30 C774.00 148.82 775.2 140.50 775.2 127.70 C775.2 114.90 774.00 106.58 771.00 102.10 L763.2 95.7 Z" fill="url(#gCylV)" stroke="#1e1e1e" stroke-width="1.3"/>
<path d="M688.2 95.7 V159.7 M763.2 95.7 V159.7" stroke="#1e1e1e" stroke-width="1.3"/>
<path d="M1003.8 375 H1063.2 A9.8 35.30000000000001 0 0 1 1063.2 445.6 H1003.8 A9.8 35.30000000000001 0 0 1 1003.8 375 Z" fill="url(#gCylV)" stroke="#1e1e1e" stroke-width="1.3"/>
<path d="M1003.8 375 V445.6 M1063.2 375 V445.6" stroke="#1e1e1e" stroke-width="1.3"/>
<path d="M1175.5 375 H1236.5 A10.5 35.30000000000001 0 0 1 1236.5 445.6 H1175.5 A10.5 35.30000000000001 0 0 1 1175.5 375 Z" fill="url(#gCylV)" stroke="#1e1e1e" stroke-width="1.3"/>
<path d="M1175.5 375 V445.6 M1236.5 375 V445.6" stroke="#1e1e1e" stroke-width="1.3"/>
<path d="M1175.6 610 V601.1 L1182.9 595 H1195.7 L1202.7 601.1 V610 Z" fill="url(#gCylH)" stroke="#333" stroke-width="1"/>
<path d="M1175.6 601.3 H1202.7" stroke="#333" stroke-width="1.2"/>
<path d="M1119.1 609.8 H1221.6000000000001 A15.8 26.55000000000001 0 0 1 1221.6000000000001 662.9 H1119.1 A15.8 26.55000000000001 0 0 1 1119.1 609.8 Z" fill="url(#gCylV)" stroke="#1e1e1e" stroke-width="1.3"/>
<path d="M1119.1 609.8 V662.9 M1221.6000000000001 609.8 V662.9" stroke="#1e1e1e" stroke-width="1.3"/>
<g fill="none" stroke="#2A862A" stroke-width="2.5" stroke-miterlimit="2">
<path d="M1036.6 386.4 H1205 V400 L1193 410 H1220 L1205 422 V434.4 H1036.6 V422 L1051 410 H1025 L1036.6 400 Z"/>
</g>

<!-- pumps and fans -->
<path d="M1190.5 694 H1202.4" stroke="#000" stroke-width="2.2"/>
<circle cx="1064.3" cy="502.3" r="17" fill="#fff" stroke="#000" stroke-width="2.3"/>
<path d="M1047.8 502.8 L1064.8 518.8 L1081.3 502.3" fill="none" stroke="#000" stroke-width="2.2"/>
<text x="1064.8" y="506.2" font-size="15" font-weight="bold" fill="#000" text-anchor="middle">1</text>
<circle cx="1121.3" cy="502.3" r="17" fill="#008000" stroke="#000" stroke-width="2.3"/>
<path d="M1104.8 502.8 L1121.8 518.8 L1138.3 502.3" fill="none" stroke="#000" stroke-width="2.2"/>
<text x="1121.8" y="506.2" font-size="15" font-weight="bold" fill="#000" text-anchor="middle">2</text>
<circle cx="1175.6" cy="502.3" r="17" fill="#008000" stroke="#000" stroke-width="2.3"/>
<path d="M1159.1 502.8 L1176.1 518.8 L1192.6 502.3" fill="none" stroke="#000" stroke-width="2.2"/>
<text x="1176.1" y="506.2" font-size="15" font-weight="bold" fill="#000" text-anchor="middle">3</text>
<circle cx="1127.1" cy="695.5" r="17" fill="#008000" stroke="#000" stroke-width="2.3"/>
<path d="M1110.6 696.0 L1127.6 712.0 L1144.1 695.5" fill="none" stroke="#000" stroke-width="2.2"/>
<text x="1127.6" y="699.4" font-size="15" font-weight="bold" fill="#000" text-anchor="middle">1</text>
<circle cx="1172.7" cy="695.5" r="17" fill="#008000" stroke="#000" stroke-width="2.3"/>
<path d="M1156.2 696.0 L1173.2 712.0 L1189.7 695.5" fill="none" stroke="#000" stroke-width="2.2"/>
<text x="1173.2" y="699.4" font-size="15" font-weight="bold" fill="#000" text-anchor="middle" textLength="17" lengthAdjust="spacingAndGlyphs">2A</text>
<circle cx="1220.2" cy="695.5" r="17" fill="#fff" stroke="#000" stroke-width="2.3"/>
<path d="M1203.7 696.0 L1220.7 712.0 L1237.2 695.5" fill="none" stroke="#000" stroke-width="2.2"/>
<text x="1220.7" y="699.4" font-size="15" font-weight="bold" fill="#000" text-anchor="middle" textLength="17" lengthAdjust="spacingAndGlyphs">2B</text>
<circle cx="1266.2" cy="695.5" r="17" fill="#008000" stroke="#000" stroke-width="2.3"/>
<path d="M1249.7 696.0 L1266.7 712.0 L1283.2 695.5" fill="none" stroke="#000" stroke-width="2.2"/>
<text x="1266.7" y="699.4" font-size="15" font-weight="bold" fill="#000" text-anchor="middle">3</text>
<circle cx="1294.2" cy="458.7" r="14.5" fill="#348234" stroke="#000" stroke-width="2.3"/>
<path d="M1293.2 444.2 L1281.2 458.7 L1293.2 473.2" fill="none" stroke="#000" stroke-width="2.2"/>
<circle cx="1293.6" cy="493.8" r="14.5" fill="#fff" stroke="#000" stroke-width="2.3"/>
<path d="M1292.6 479.3 L1280.6 493.8 L1292.6 508.3" fill="none" stroke="#000" stroke-width="2.2"/>
<!-- left: air path, fans, ESP, air heater -->
<g fill="none" stroke="#6A9ACF" stroke-width="2.6">
<path d="M176.3 346 V327.8 M260 346 V327.8"/>
<path d="M176.3 381 V389 H260 V381"/>
<path d="M217.3 389 V401"/>
<path d="M217.3 419 V439.3 H295.3 V432.7 H313.7 V447.6 H332 V439.3 H374"/>
</g>
<path d="M209.6 400.5 L224.2 400.5 L217.2 420.5 Z" fill="#6A9ACF" stroke="#1a2a40" stroke-width="1"/>
<!-- air heater -->
<rect x="285.4" y="397.8" width="57.9" height="59" fill="#DCA21E"/>
<rect x="285.4" y="456.8" width="57.9" height="57.2" fill="#6A9ACF"/>
<path d="M303.8 408.5h2 M320.8 403.5h3 M291.9 436.5h1 M334.3 412.5h1 M291.5 425.5h1 M299.5 434.5h2 M290.1 435.5h1 M336.3 439.5h4 M317.3 402.5h3 M317.4 402.5h1.5 M289.4 453.5h1.5 M302.1 408.5h3 M293.1 418.5h3 M329.4 410.5h1 M317.2 439.5h1.5 M306.4 434.5h4 M290.3 402.5h3 M297.7 442.5h3 M309.2 419.5h2 M317.4 428.5h2 M302.6 449.5h1.5 M323.3 414.5h1 M316.9 432.5h2 M332.5 445.5h2 M302.0 403.5h1 M313.6 409.5h2 M294.9 430.5h2 M289.0 441.5h1 M326.8 435.5h2 M304.7 421.5h3 M312.8 450.5h2 M290.6 404.5h2 M311.7 441.5h1 M290.2 443.5h2 M320.7 442.5h2 M301.8 423.5h4 M305.0 428.5h2 M295.7 406.5h2 M290.1 448.5h2 M293.7 414.5h2 M307.3 454.5h2 M291.2 427.5h2 M315.6 407.5h2 M331.9 416.5h4 M308.6 421.5h4 M333.0 413.5h1.5 M291.3 408.5h1.5 M321.2 399.5h2 M330.2 410.5h2 M301.7 408.5h2 M314.8 438.5h3 M303.6 407.5h4 M331.7 438.5h4 M322.2 402.5h2 M333.8 448.5h4 M328.5 424.5h2 M307.7 405.5h2 M320.0 402.5h1.5 M290.5 412.5h2 M295.4 420.5h3 M289.7 399.5h3 M294.9 405.5h2 M318.9 403.5h1.5 M318.9 408.5h4 M300.1 421.5h3 M305.9 406.5h1 M331.1 428.5h2 M312.2 404.5h1.5 M292.3 420.5h4 M300.8 452.5h4 M295.4 400.5h1.5 M336.5 432.5h2 M294.6 433.5h1 M326.4 418.5h4 M331.9 443.5h2 M314.0 409.5h2 M327.1 433.5h3 M327.5 420.5h4 M298.6 450.5h1.5 M328.9 451.5h2 M325.5 413.5h1.5 M313.9 421.5h4 M288.5 400.5h2 M311.6 411.5h4 M318.5 421.5h2 M329.0 445.5h2 M336.7 422.5h1 M298.5 413.5h2 M297.2 412.5h2 M319.5 438.5h1 M311.9 440.5h2 M328.6 404.5h4 M293.2 423.5h4 M326.0 429.5h1.5 M309.6 439.5h2 M291.5 445.5h2 M311.1 446.5h1 M324.7 409.5h1.5 M288.4 436.5h2 M328.9 408.5h3 M330.0 429.5h4 M335.7 408.5h3 M315.5 400.5h1 M328.6 445.5h4 M292.3 446.5h1.5 M309.6 454.5h1.5 M330.0 412.5h1 M300.1 417.5h3 M299.5 436.5h2 M300.5 425.5h1.5 M290.2 446.5h2 M333.7 441.5h3 M329.4 432.5h2 M330.0 431.5h1.5 M314.7 432.5h3 M288.0 427.5h1.5 M318.6 448.5h1.5 M296.0 429.5h3 M324.7 434.5h1 M304.0 432.5h3 M315.9 449.5h1 M332.9 402.5h1.5 M296.9 401.5h1 M313.4 434.5h1 M326.5 403.5h2 M303.9 431.5h3 M313.6 443.5h2 M310.5 433.5h2 M313.4 414.5h4 M314.2 415.5h3 M333.4 411.5h2 M294.1 406.5h2 M310.0 403.5h4 M299.5 403.5h1.5 M321.8 449.5h1 M333.6 408.5h4 M320.5 422.5h1.5 M300.2 407.5h2 M298.4 405.5h2 M333.0 409.5h4 M330.3 409.5h4 M309.4 431.5h2 M304.6 411.5h2 M303.6 445.5h2 M288.0 434.5h2 M309.9 400.5h2 M304.2 438.5h2 M313.6 403.5h1 M338.2 449.5h1.5 M337.5 405.5h1 M300.8 401.5h1.5 M301.1 407.5h2 M331.2 442.5h2 M308.1 433.5h3 M316.7 443.5h2 M291.7 402.5h4 M296.5 403.5h2 M335.8 439.5h1 M328.7 404.5h3 M331.5 403.5h2 M331.9 428.5h1 M304.6 434.5h2 M335.2 416.5h3 M293.7 432.5h4 M299.4 406.5h1.5 M300.6 410.5h1.5 M335.5 439.5h2 M314.6 412.5h2 M310.2 442.5h1.5 M301.1 450.5h1 M338.7 401.5h1 M288.0 431.5h3 M337.9 431.5h2 M299.8 427.5h1 M321.2 440.5h2 M321.1 433.5h2 M337.5 418.5h4 M298.2 413.5h2 M297.3 444.5h4 M320.1 424.5h2 M338.1 452.5h1.5 M287.7 439.5h4 M332.8 426.5h1.5 M289.9 441.5h2 M332.3 441.5h2 M318.1 443.5h2 M289.4 410.5h1.5 M301.0 399.5h2 M305.9 420.5h3 M303.8 401.5h2" stroke="#F2D98E" stroke-width="1" fill="none" opacity="0.85"/>
<path d="M298.3 469.5h1 M304.4 463.5h2 M301.5 499.5h1.5 M299.9 507.5h1 M291.7 510.5h1 M294.5 495.5h1 M307.5 477.5h2 M319.7 463.5h3 M336.8 506.5h1.5 M321.2 503.5h3 M307.3 478.5h4 M338.2 467.5h2 M324.7 499.5h1.5 M289.3 511.5h4 M333.4 498.5h2 M325.2 509.5h3 M294.2 491.5h3 M316.6 510.5h1 M330.0 495.5h4 M322.5 502.5h4 M299.0 459.5h1 M293.9 481.5h1 M306.6 486.5h3 M289.6 459.5h4 M314.6 473.5h2 M300.7 487.5h1 M325.9 490.5h3 M291.8 491.5h1 M325.8 488.5h2 M329.1 474.5h1.5 M324.9 471.5h1.5 M325.5 487.5h2 M331.0 462.5h2 M334.3 476.5h1 M319.1 499.5h1.5 M291.0 467.5h2 M300.2 505.5h4 M302.8 494.5h1.5 M287.6 461.5h2 M301.0 501.5h1 M323.0 501.5h2 M302.1 491.5h2 M311.2 487.5h1 M338.7 493.5h1.5 M303.2 463.5h2 M287.9 487.5h1 M329.6 486.5h2 M307.1 471.5h1 M317.2 467.5h4 M314.3 481.5h1.5 M318.4 498.5h3 M301.5 465.5h4 M306.0 489.5h2 M307.5 468.5h1 M336.4 501.5h2 M308.1 504.5h1.5 M308.6 482.5h2 M293.3 479.5h1 M303.9 479.5h2 M293.2 470.5h4 M287.6 505.5h2 M300.2 462.5h2 M307.3 495.5h1 M305.8 485.5h2 M331.4 475.5h1 M289.7 500.5h2 M320.0 467.5h1.5 M337.5 485.5h3 M303.4 507.5h2 M327.8 485.5h1 M329.2 498.5h2 M334.5 493.5h3 M297.6 463.5h1 M335.5 484.5h2 M319.0 466.5h4 M332.2 489.5h1 M334.4 493.5h1.5 M295.9 484.5h2 M301.7 474.5h4 M325.4 499.5h2 M308.1 473.5h2 M312.1 500.5h2 M293.2 499.5h1.5 M290.9 490.5h2 M315.6 486.5h2 M338.8 486.5h2 M294.3 470.5h1.5 M291.7 479.5h3 M291.7 473.5h2 M300.4 494.5h1.5 M333.1 505.5h2 M306.9 505.5h3 M297.9 475.5h2 M326.1 489.5h2 M316.9 481.5h1.5 M322.7 491.5h4 M328.1 471.5h1 M301.1 473.5h2 M307.8 486.5h2 M336.6 510.5h1 M293.6 485.5h4 M326.7 509.5h2 M337.4 489.5h1 M290.8 510.5h3 M331.5 486.5h1.5 M327.7 472.5h1.5 M294.9 501.5h1 M336.0 504.5h4 M320.7 506.5h2 M291.4 507.5h1 M287.1 466.5h1.5 M316.6 460.5h4 M324.2 466.5h4 M300.1 498.5h2 M323.3 465.5h1 M290.7 491.5h3 M297.0 474.5h1.5 M328.1 458.5h1 M314.9 487.5h2 M336.9 499.5h1.5 M311.7 473.5h3 M299.8 484.5h4 M320.8 461.5h1 M297.1 501.5h4 M308.8 474.5h1.5 M321.7 481.5h1.5 M312.6 502.5h2 M324.4 481.5h4 M307.6 458.5h2 M325.4 490.5h1" stroke="#C6D7EE" stroke-width="1" fill="none" opacity="0.85"/>
<path d="M343 457 V514 H286" fill="none" stroke="#C6D7EE" stroke-width="1"/>
<path d="M285.4 439.3 H295.3 V432.7 H313.7 V447.6 H332 V439.3 H343.3" fill="none" stroke="#6A9ACF" stroke-width="2.6"/>
<!-- flue gas golden lines -->
<g fill="none" stroke="#D79E12" stroke-width="2.6">
<path d="M270 481.7 H296.6 V468.6 H315 V494.8 H332.8 V481.5 H374"/>
<path d="M143 481.7 H154 M144 558.3 H154"/>
<path d="M107 481.7 H95.9 V558.3 H107"/>
<path d="M542.5 480.8 H709"/>
<path d="M542.5 497.2 H570 L594.3 523.5 V557.6 L626 604"/>
<path d="M550 497.2 H567"/>
</g>
<path d="M565.5 480.8 L584 474 L584 488 Z" fill="#D79E12" stroke="#332200" stroke-width="0.8"/>
<path d="M547 491.6 L567 497.4 L547 503.4 Z" fill="#D79E12" stroke="#332200" stroke-width="0.8"/>
<!-- blue fans -->
<g stroke="#000" stroke-width="2.2">
<ellipse cx="176" cy="363.6" rx="17.6" ry="16.6" fill="#6A9ACF"/>
<path d="M166.6 350.8 L172.3 379.6 M185.3 350.8 L181.2 379.6" fill="none"/>
<ellipse cx="259.9" cy="363.6" rx="17.6" ry="16.6" fill="#6A9ACF"/>
<path d="M250.5 350.8 L256.2 379.6 M269.2 350.8 L265.1 379.6" fill="none"/>
</g>
<!-- white and golden fans -->
<g stroke="#000" stroke-width="2.2">
<ellipse cx="125.3" cy="481.3" rx="17" ry="15" fill="#fff"/>
<path d="M109 483 L141 472 M109 483 L141 491" fill="none"/>
<ellipse cx="125.8" cy="558.3" rx="17" ry="15" fill="#D4A017"/>
<path d="M109.5 560 L141.5 549 M109.5 560 L141.5 568" fill="none"/>
</g>
<!-- ESP -->
<path d="M154.1 460.2 H269.6 V587 L260.5 629.4 H248 L237.9 583.2 H228.1 L220.9 627.8 H206.2 L198.3 581.8 H185.8 L177.9 627.8 H164.3 L154.1 587 Z" fill="#C0C0C0" stroke="#1a1a1a" stroke-width="1.4"/>
<circle cx="217.9" cy="489.8" r="19.4" fill="none" stroke="#000" stroke-width="2.2"/>
<path d="M204.5 491.5 L220.3 476.5 L218.2 503.8 L232 489" fill="none" stroke="#000" stroke-width="4.2" stroke-linecap="round" stroke-linejoin="round"/>

<!-- burner -->
<radialGradient id="gFl" gradientUnits="userSpaceOnUse" cx="517" cy="560" r="62">
<stop offset="0" stop-color="#ff4000"/><stop offset="0.41" stop-color="#ff4000"/><stop offset="0.41" stop-color="#ff6c00"/><stop offset="0.585" stop-color="#ff6c00"/><stop offset="0.585" stop-color="#ff9a00"/><stop offset="0.72" stop-color="#ff9e00"/><stop offset="0.72" stop-color="#ffc400"/><stop offset="0.85" stop-color="#ffcc00"/><stop offset="0.85" stop-color="#ffff00"/><stop offset="1" stop-color="#ffff00"/>
</radialGradient>

<rect x="508.3" y="541" width="16" height="19.4" fill="#806000" stroke="#1a1200" stroke-width="1"/>
<rect x="508.3" y="560.4" width="16" height="20.2" fill="#0000FF" stroke="#000033" stroke-width="1"/>
<path d="M456.2 559.5 L464.1 553.7 L469.3 550.3 L466.7 547.4 L474 545.9 L478.7 545.3 L479.3 543.2 L481.4 544.6 L486.1 545.3 L491.3 546.1 L492.1 543.2 L493.4 544.8 L497.6 546.4 L501.8 549 L506.5 550.6 L509.7 553.7 L515.5 560 L510.2 565.3 L506 568.9 L504.4 572.1 L501.8 571 L496.6 573.7 L489.8 575.8 L488.2 578.4 L485.6 576.3 L479.3 577.1 L476.6 578.4 L474.5 575.8 L470.4 574.2 L465.6 572.1 L467.2 570.2 L462.5 565.8 Z" fill="url(#gFl)" stroke="#1a0d00" stroke-width="1.1" stroke-linejoin="round"/>
<path d="M524.3 552.1 H576.2" stroke="#8C8500" stroke-width="3"/>
<!-- blue/black coal pipes -->
<path d="M524.3 571.9 H581.4 V597.3" fill="none" stroke="#0000FF" stroke-width="7.5"/>
<path d="M528 571.9 H550 M556.5 571.9 H579 M581.4 578.5 V595" fill="none" stroke="#000" stroke-width="5" stroke-linecap="round"/>
<path d="M629.9 577 V631.7" fill="none" stroke="#909090" stroke-width="5.5"/>
<path d="M629.9 631.7 V678 L618 689.9" fill="none" stroke="#0000FF" stroke-width="6.5"/>
<path d="M629.9 644 V664 M627 682 L619 689.5" fill="none" stroke="#000" stroke-width="4.6" stroke-linecap="round"/>
<path d="M632.5 632 H686.4" stroke="#6A9ACF" stroke-width="2.4"/>
<path d="M648.2 632 L667.8 626 L667.8 638.2 Z" fill="#6A9ACF" stroke="#1a2a40" stroke-width="0.9"/>
<!-- mill -->
<path d="M545.6 597.5 H616.5 L609 606 C603 613 600.5 622 600 632.5 H562 C561.5 622 559 613 553 606 Z" fill="url(#gFun)" stroke="#222" stroke-width="1"/>
<path d="M549 601 H613 M551.5 604 H610.5 M553.5 607 H608" stroke="#e8e8e8" stroke-width="0.9" opacity="0.8"/>
<rect x="542.7" y="633.5" width="76.7" height="5.7" fill="#e4e2c6" stroke="#222" stroke-width="1.2"/>
<rect x="550.9" y="639.2" width="60.3" height="29.1" fill="url(#gKhaki)" stroke="#222" stroke-width="1"/>
<rect x="574" y="649.6" width="15.6" height="5.2" fill="#5a5a5a" stroke="#111" stroke-width="1"/>
<rect x="537.5" y="669.7" width="87.1" height="3.8" fill="#dedcc2" stroke="#222" stroke-width="1.2"/>
<rect x="544.2" y="673.5" width="73.8" height="34.3" fill="#eeedd8" stroke="#222" stroke-width="1.2"/>
<rect x="548.6" y="680.2" width="64.9" height="26.1" fill="#e2e1c8" stroke="#222" stroke-width="1.4"/>
<path d="M549.5 681.5 H612.5" stroke="#3a3a20" stroke-width="2"/>
<rect x="537.5" y="707.8" width="87.1" height="3.7" fill="#dedcc2" stroke="#222" stroke-width="1.2"/>
<!-- conveyor and hopper -->
<rect x="635.3" y="556.3" width="82.2" height="20.5" fill="#c6c6c6" stroke="#222" stroke-width="1.2"/>
<ellipse cx="637" cy="567.2" rx="13.5" ry="10" fill="#8c8c8c" stroke="#111" stroke-width="1.3"/>
<ellipse cx="637" cy="567.6" rx="6.3" ry="5.3" fill="#000"/>
<ellipse cx="713.9" cy="567.2" rx="13.5" ry="10" fill="#8c8c8c" stroke="#111" stroke-width="1.3"/>
<ellipse cx="713.9" cy="567.6" rx="6.3" ry="5.3" fill="#000"/>
<path d="M665.6 542.2 H681.7 V552 C681.7 554 680 554.7 678 554.7 H669 C667 554.7 665.6 554 665.6 552 Z" fill="url(#gFun)" stroke="#222" stroke-width="1"/>
<path d="M650 528 H697.5 L681.7 542.2 H665.6 Z" fill="url(#gFun)" stroke="#222" stroke-width="1"/>
<rect x="648.1" y="494.3" width="51.3" height="33.6" fill="url(#gFun)" stroke="#111" stroke-width="1.2"/>
<rect x="648.1" y="494.3" width="51.3" height="3.2" fill="#111"/>
<rect x="648.1" y="525.3" width="51.3" height="3" fill="#111"/>
<rect x="657.3" y="492.3" width="32.7" height="2.2" fill="#9a9a9a" stroke="#333" stroke-width="0.6"/>
<!-- mini mills -->
<use href="#mini" x="418" y="751"/>
<circle cx="418" cy="781.3" r="8.3" fill="#00EE00" stroke="#1a1a1a" stroke-width="1.1"/>
<text x="418" y="804.3" font-size="11" font-weight="bold" fill="#222" text-anchor="middle" textLength="12" lengthAdjust="spacingAndGlyphs">M1</text>
<use href="#mini" x="481" y="751"/>
<circle cx="481" cy="781.3" r="8.3" fill="#00EE00" stroke="#1a1a1a" stroke-width="1.1"/>
<text x="481" y="804.3" font-size="11" font-weight="bold" fill="#222" text-anchor="middle" textLength="12" lengthAdjust="spacingAndGlyphs">M2</text>
<use href="#mini" x="543.5" y="751"/>
<circle cx="543.5" cy="781.3" r="8.3" fill="#00EE00" stroke="#1a1a1a" stroke-width="1.1"/>
<text x="543.5" y="804.3" font-size="11" font-weight="bold" fill="#222" text-anchor="middle" textLength="12" lengthAdjust="spacingAndGlyphs">M3</text>
<use href="#mini" x="606" y="751"/>
<circle cx="606" cy="781.3" r="8.3" fill="#fff" stroke="#1a1a1a" stroke-width="1.1"/>
<text x="606" y="804.3" font-size="11" font-weight="bold" fill="#222" text-anchor="middle" textLength="12" lengthAdjust="spacingAndGlyphs">M4</text>
<use href="#mini" x="668.5" y="751"/>
<circle cx="668.5" cy="781.3" r="8.3" fill="#fff" stroke="#1a1a1a" stroke-width="1.1"/>
<text x="668.5" y="804.3" font-size="11" font-weight="bold" fill="#222" text-anchor="middle" textLength="12" lengthAdjust="spacingAndGlyphs">M5</text>
<use href="#mini" x="731" y="751"/>
<circle cx="731" cy="781.3" r="8.3" fill="#00EE00" stroke="#1a1a1a" stroke-width="1.1"/>
<text x="731" y="804.3" font-size="11" font-weight="bold" fill="#222" text-anchor="middle" textLength="12" lengthAdjust="spacingAndGlyphs">M6</text>

<!-- transformers / grid -->
<g fill="none" stroke="#000" stroke-width="2.6">
<ellipse cx="1264.8" cy="169" rx="20.4" ry="17"/>
<ellipse cx="1264.8" cy="184.8" rx="20.4" ry="17"/>
<ellipse cx="1175.8" cy="213.3" rx="20" ry="18"/>
<ellipse cx="1195.3" cy="213.3" rx="20" ry="18"/>
<path d="M1264.5 152 V126"/>
<path d="M1264.5 201.8 V270"/>
<path d="M1215.3 215.7 H1263.5"/>
<path d="M1155.8 215.7 H1084"/>
</g>
<path d="M1264.5 107 L1272 126.7 L1257.3 126.7 Z" fill="#000"/>
<path d="M1068.3 215.7 L1085 209.5 L1085 223.5 Z" fill="#000"/>
<!-- power line tower -->
<g fill="none" stroke="#000" stroke-width="1.2">
<path d="M1201.5 92 L1198.8 120 L1196.5 150.5 M1212.3 92 L1215 120 L1218.3 150.5"/>
<path d="M1201.3 95 L1212.6 112 M1212.6 95 L1201 112 M1200.5 112.5 H1213.6 M1200.4 113 L1214.8 130 M1213.8 113 L1199.4 130 M1199 129.5 H1215.6 M1199 130 L1217.5 150 M1215.7 130 L1197 150"/>
<path d="M1212 66.5 C1240 72 1270 73 1322 65.5 M1212 68.8 C1245 73 1280 73 1312 66.3"/>
<path d="M1214 80.5 C1245 85 1280 86 1325.7 77.5 M1214 82.8 C1250 86 1285 85 1314 79"/>
<path d="M1212 93 C1245 98 1280 99 1322 92 M1212 95.3 C1250 98.5 1285 97.5 1312 93.4"/>
</g>
<path d="M1195.3 55.5 H1218.6 V57.4 L1216.8 65 H1197.2 L1195.3 57.4 Z" fill="#000"/>
<rect x="1201.7" y="64" width="10.3" height="29" fill="#000"/>
<path d="M1196.3 78 V73.5 C1196.3 72.5 1197.5 72 1199 72 H1214.5 C1216 72 1217.6 72.5 1217.6 73.5 V77.5" fill="none" stroke="#000" stroke-width="2.4"/>
<ellipse cx="1206.6" cy="88.8" rx="10.3" ry="3.2" fill="#000"/>
<g fill="#8a8fa0">
<circle cx="1201" cy="59" r="0.8"/><circle cx="1206.8" cy="58.5" r="0.8"/><circle cx="1212.6" cy="59" r="0.8"/>
<circle cx="1199.5" cy="62.5" r="0.7"/><circle cx="1204.5" cy="63" r="0.9"/><circle cx="1209" cy="63" r="0.9"/><circle cx="1214" cy="62.5" r="0.7"/>
<circle cx="1206.8" cy="67.5" r="0.9"/><circle cx="1204" cy="71.5" r="0.8"/><circle cx="1209.6" cy="71.5" r="0.8"/>
<circle cx="1205" cy="76.5" r="0.8"/><circle cx="1209" cy="78.5" r="0.7"/><circle cx="1206.8" cy="82.5" r="0.9"/><circle cx="1203.5" cy="86" r="0.7"/><circle cx="1210" cy="86" r="0.7"/><circle cx="1206.8" cy="92" r="0.8"/>
</g>

<!-- texts and right panels -->
<text x="631.5" y="35.2" font-size="28.5" font-weight="bold" fill="#008800" textLength="144.5" lengthAdjust="spacingAndGlyphs">Connected</text>
<text x="796" y="32.3" font-size="15.4" font-weight="bold" fill="#008A00" textLength="309" lengthAdjust="spacingAndGlyphs">Last connection at 14.05.2019. 10:10:42</text>
<text x="977.7" y="81.6" font-size="13.2" font-weight="bold" fill="#000" textLength="100.7" lengthAdjust="spacingAndGlyphs">Aktivna snaga</text>
<text x="983" y="132.7" font-size="13.2" font-weight="bold" fill="#000" textLength="87" lengthAdjust="spacingAndGlyphs">Snaga praga</text>
<text x="985" y="161.5" font-size="13.2" font-weight="bold" fill="#000" textLength="69" lengthAdjust="spacingAndGlyphs">Reaktivna</text>
<text x="985" y="179.5" font-size="13.2" font-weight="bold" fill="#000" textLength="43" lengthAdjust="spacingAndGlyphs">snaga</text>
<rect x="1082.80" y="66.70" width="75.10" height="28.80" fill="#000" stroke="#C4C0B8" stroke-width="2.2"/>
<text x="1089.5" y="87.39999999999999" font-size="17" font-weight="bold" fill="#FFFF00">166</text>
<text x="1163.7" y="84.6" font-size="15" fill="#3a3a3a" textLength="25" lengthAdjust="spacingAndGlyphs">MW</text>
<rect x="1081.70" y="119.80" width="74.20" height="28.80" fill="#000" stroke="#C4C0B8" stroke-width="2.2"/>
<text x="1088.3999999999999" y="140.5" font-size="17" font-weight="bold" fill="#FFFF00">150</text>
<text x="1162.6" y="138.7" font-size="15" fill="#3a3a3a" textLength="25" lengthAdjust="spacingAndGlyphs">MW</text>
<rect x="1082.10" y="163.70" width="73.80" height="27.60" fill="#000" stroke="#C4C0B8" stroke-width="2.2"/>
<text x="1088.8" y="183.8" font-size="17" font-weight="bold" fill="#FFFF00">44</text>
<text x="1163" y="184" font-size="15" fill="#3a3a3a" textLength="33" lengthAdjust="spacingAndGlyphs">Mvar</text>
<text x="883.2" y="365.1" font-size="13.2" font-weight="bold" fill="#000" textLength="90.7" lengthAdjust="spacingAndGlyphs">Kondenzator</text>
<rect x="881.35" y="375.35" width="76.50" height="23.30" fill="#0000F0" stroke="#000" stroke-width="2.3"/>
<text x="888.3" y="392.8" font-size="17.5" font-weight="bold" fill="#fff" textLength="34" lengthAdjust="spacingAndGlyphs">0.95</text>
<text x="965.9" y="394" font-size="14" fill="#0a0a1e">bar</text>
<rect x="884.15" y="417.65" width="76.10" height="23.40" fill="#008000" stroke="#000" stroke-width="2.3"/>
<text x="889" y="435.4" font-size="17.5" font-weight="bold" fill="#fff" textLength="44" lengthAdjust="spacingAndGlyphs">23.17</text>
<text x="966" y="435.9" font-size="14" fill="#0a0a1e">°C</text>
<rect x="884.15" y="459.85" width="76.10" height="23.40" fill="#008000" stroke="#000" stroke-width="2.3"/>
<text x="889" y="477.6" font-size="17.5" font-weight="bold" fill="#fff" textLength="44" lengthAdjust="spacingAndGlyphs">45.97</text>
<text x="966" y="477.7" font-size="14" fill="#0a0a1e">°C</text>
<rect x="687.85" y="168.45" width="76.60" height="23.00" fill="#008000" stroke="#000" stroke-width="2.3"/>
<text x="695.4" y="185.8" font-size="17" font-weight="bold" fill="#fff">120</text>
<text x="771.7" y="186.5" font-size="14" fill="#0a0a1e">mm</text>
<text x="550" y="534.4" font-size="13.2" font-weight="bold" fill="#000" textLength="41.8" lengthAdjust="spacingAndGlyphs">Mazut</text>
<text x="1237" y="611.3" font-size="13.2" font-weight="bold" fill="#000" textLength="74.3" lengthAdjust="spacingAndGlyphs">Demi voda</text>
<text x="1051.3" y="575.5" font-size="16.5" font-weight="bold" fill="#000" textLength="31.2" lengthAdjust="spacingAndGlyphs">NTZ</text>
<text x="839.7" y="759.5" font-size="17" fill="#000" textLength="31.9" lengthAdjust="spacingAndGlyphs">VTZ</text>
<text x="1021" y="506.7" font-size="13.2" font-weight="bold" fill="#000">KP</text>
<text x="1282.5" y="403.8" font-size="13.2" font-weight="bold" fill="#000">RP</text>
<text x="1287.5" y="699.5" font-size="13.2" font-weight="bold" fill="#000">NP</text>
</svg>
</div></body></html>
